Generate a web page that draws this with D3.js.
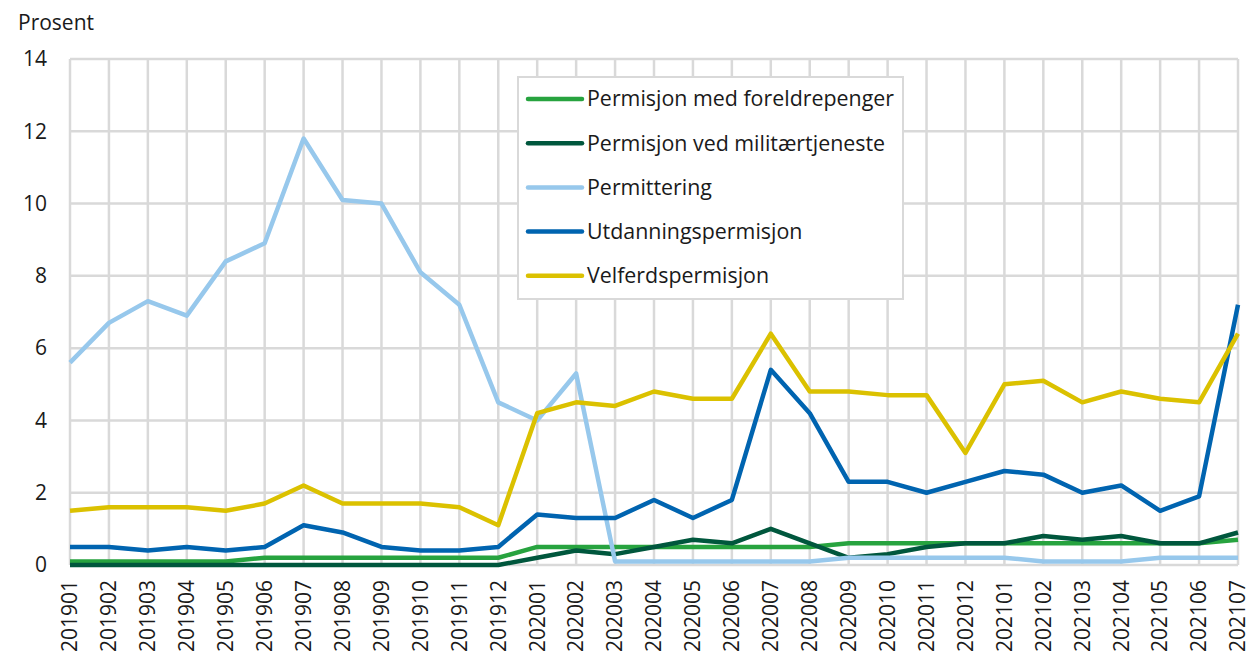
<!DOCTYPE html>
<html lang="no">
<head>
<meta charset="utf-8">
<title>Permisjon</title>
<script src="https://cdn.jsdelivr.net/npm/d3@7"></script>
<style>
  body { margin: 0; background: #fff; }
  text { font-family: "Open Sans", "Noto Sans", sans-serif; fill: #1a1a1a; }
</style>
</head>
<body>
<div id="chart"></div>
<script>
// months on the x axis
var months = ["201901","201902","201903","201904","201905","201906","201907","201908","201909","201910","201911","201912",
  "202001","202002","202003","202004","202005","202006","202007","202008","202009","202010","202011","202012",
  "202101","202102","202103","202104","202105","202106","202107"]

var foreldrepenger = [0.1,0.1,0.1,0.1,0.1,0.2,0.2,0.2,0.2,0.2,0.2,0.2, 0.5,0.5,0.5,0.5,0.5,0.5,0.5,0.5,0.6,0.6,0.6,0.6, 0.6,0.6,0.6,0.6,0.6,0.6,0.7]
var militaer = [0,0,0,0,0,0,0,0,0,0,0,0, 0.2,0.4,0.3,0.5,0.7,0.6,1.0,0.6,0.2,0.3,0.5,0.6, 0.6,0.8,0.7,0.8,0.6,0.6,0.9]
var permittering = [5.6,6.7,7.3,6.9,8.4,8.9,11.8,10.1,10.0,8.1,7.2,4.5, 4.0,5.3,0.1,0.1,0.1,0.1,0.1,0.1,0.2,0.2,0.2,0.2, 0.2,0.1,0.1,0.1,0.2,0.2,0.2]
var utdanning = [0.5,0.5,0.4,0.5,0.4,0.5,1.1,0.9,0.5,0.4,0.4,0.5, 1.4,1.3,1.3,1.8,1.3,1.8,5.4,4.2,2.3,2.3,2.0,2.3, 2.6,2.5,2.0,2.2,1.5,1.9,7.2]
var velferd = [1.5,1.6,1.6,1.6,1.5,1.7,2.2,1.7,1.7,1.7,1.6,1.1, 4.2,4.5,4.4,4.8,4.6,4.6,6.4,4.8,4.8,4.7,4.7,3.1, 5.0,5.1,4.5,4.8,4.6,4.5,6.4]

var seriesNames = ["Permisjon med foreldrepenger","Permisjon ved militærtjeneste","Permittering","Utdanningspermisjon","Velferdspermisjon"]
var yTicks = [0,2,4,6,8,10,12,14]

var series = [
  {name: seriesNames[0], values: foreldrepenger, color: "#27a33f"},
  {name: seriesNames[1], values: militaer, color: "#00573d"},
  {name: seriesNames[2], values: permittering, color: "#97c8ec"},
  {name: seriesNames[3], values: utdanning, color: "#0064b0"},
  {name: seriesNames[4], values: velferd, color: "#dbc100"}
]

var W = 1250, H = 662
var mLeft = 70, mRight = 1238, mTop = 59, mBottom = 565

var svg = d3.select("#chart").append("svg").attr("width", W).attr("height", H)

var x = d3.scalePoint().domain(months).range([mLeft, mRight])
var y = d3.scaleLinear().domain([0, 14]).range([mBottom, mTop])

// grid
svg.append("g").selectAll("line").data(months).enter().append("line")
  .attr("x1", function(d){ return x(d) }).attr("x2", function(d){ return x(d) })
  .attr("y1", mTop).attr("y2", mBottom)
  .attr("stroke", "#d9d9d9").attr("stroke-width", 2.5)
svg.append("g").selectAll("line").data(yTicks).enter().append("line")
  .attr("x1", mLeft).attr("x2", mRight)
  .attr("y1", function(d){ return y(d) }).attr("y2", function(d){ return y(d) })
  .attr("stroke", "#d9d9d9").attr("stroke-width", 2.5)

// y labels
svg.append("g").selectAll("text").data(yTicks).enter().append("text")
  .attr("x", 47).attr("y", function(d){ return y(d) })
  .attr("dy", "0.35em").attr("text-anchor", "end")
  .style("font-size", "21px")
  .text(function(d){ return d })

svg.append("text").attr("x", 18).attr("y", 30).style("font-size", "21px").text("Prosent")

// x labels
svg.append("g").selectAll("text").data(months).enter().append("text")
  .attr("transform", function(d){ return "translate(" + x(d) + ",580) rotate(-90)" })
  .attr("dy", "0.35em").attr("text-anchor", "end")
  .style("font-size", "21px")
  .text(function(d){ return d })

// lines
var line = d3.line()
  .x(function(d, i){ return x(months[i]) })
  .y(function(d){ return y(d) })

series.forEach(function(s){
  svg.append("path").datum(s.values)
    .attr("d", line)
    .attr("fill", "none")
    .attr("stroke", s.color)
    .attr("stroke-width", 4.5)
    .attr("stroke-linejoin", "round")
})

// legend
var lg = svg.append("g")
lg.append("rect").attr("x", 518).attr("y", 77).attr("width", 385).attr("height", 222)
  .attr("fill", "#fff").attr("stroke", "#d9d9d9").attr("stroke-width", 2)
series.forEach(function(s, i){
  var ly = 99 + i * 44.2
  lg.append("line").attr("x1", 528).attr("x2", 582).attr("y1", ly).attr("y2", ly)
    .attr("stroke", s.color).attr("stroke-width", 4.5).attr("stroke-linecap", "round")
  lg.append("text").attr("x", 587).attr("y", ly).attr("dy", "0.35em")
    .style("font-size", "21.4px").text(s.name)
})
</script>
</body>
</html>
